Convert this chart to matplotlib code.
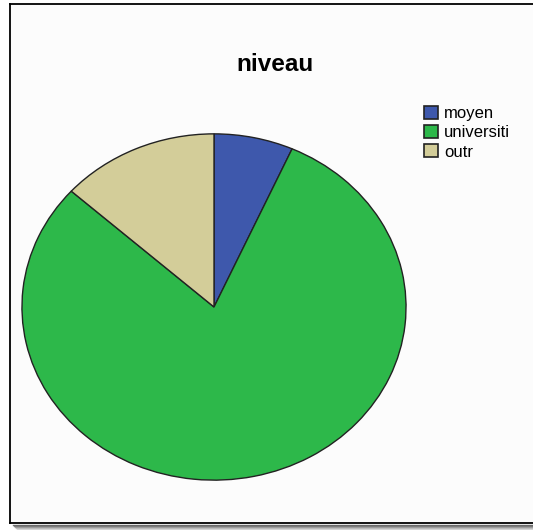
import matplotlib
matplotlib.use("Agg")
import matplotlib.pyplot as plt
from matplotlib.patches import Rectangle, Patch
from matplotlib.lines import Line2D

plt.rcParams['font.family'] = ['Liberation Sans', 'DejaVu Sans']

categories = ["moyen", "universiti", "outr"]
counts = [2, 24, 4]
colors = ["#3e58ac", "#2db84a", "#d3cd99"]
title = "niveau"

W, H = 533, 530
fig = plt.figure(figsize=(W / 100, H / 100), dpi=100)
fig.patch.set_facecolor("white")

def fx(px):
    return px / W

def fy(py):
    return 1 - py / H

# drop shadow under the chart frame
for i, a in enumerate([0.55, 0.42, 0.3, 0.2, 0.12, 0.06]):
    fig.add_artist(Line2D([fx(13 + i), fx(W)], [fy(524.5 + i), fy(524.5 + i)],
                          color="black", alpha=a, lw=1.0))

# chart background and frame (left, top and bottom edges)
fig.add_artist(Rectangle((fx(10), fy(523)), 1 - fx(10), fy(4) - fy(523),
                         transform=fig.transFigure, facecolor="#fcfcfc",
                         edgecolor="none", zorder=0))
frame_kw = dict(color="black", lw=1.3, solid_capstyle="projecting")
fig.add_artist(Line2D([fx(10), fx(W)], [fy(4), fy(4)], **frame_kw))
fig.add_artist(Line2D([fx(10), fx(W)], [fy(523), fy(523)], **frame_kw))
fig.add_artist(Line2D([fx(10), fx(10)], [fy(4), fy(523)], **frame_kw))

# pie (drawn as an ellipse, as in the source chart)
left, right, top, bottom = 21, 407, 133, 481
ax = fig.add_axes([fx(left), fy(bottom), fx(right) - fx(left), fy(top) - fy(bottom)])
ax.pie(counts, colors=colors, startangle=90, counterclock=False,
       wedgeprops=dict(edgecolor="#222222", linewidth=1.0))
ax.set_aspect("auto")
ax.set_xlim(-1.005, 1.005)
ax.set_ylim(-1.005, 1.005)
ax.axis("off")

fig.text(fx(274.5), fy(71), title, ha="center", va="baseline",
         fontsize=17.5, fontweight="bold")

handles = [Patch(facecolor=c, edgecolor="#222222", lw=1.2) for c in colors]
fig.legend(handles, categories, loc="upper left",
           bbox_to_anchor=(fx(424), fy(106)), bbox_transform=fig.transFigure,
           frameon=False, fontsize=12, borderpad=0, borderaxespad=0,
           handlelength=0.85, handleheight=0.85, handletextpad=0.35,
           labelspacing=0.22)

fig.savefig("out.png", dpi=100)
